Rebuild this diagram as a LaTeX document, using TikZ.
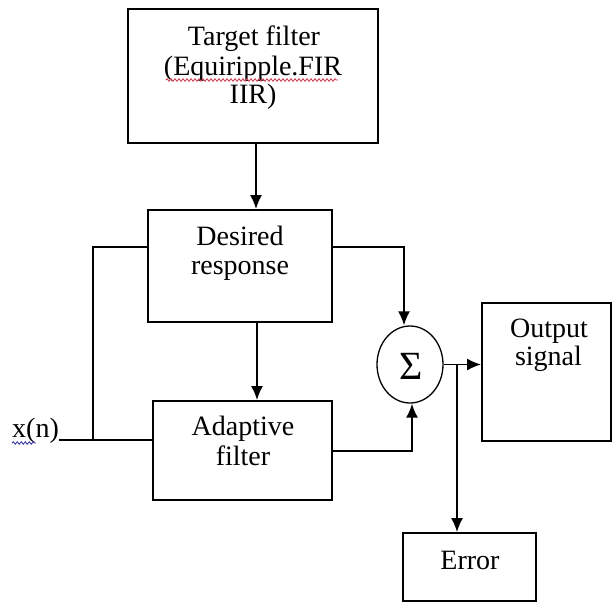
\documentclass[tikz,border=0pt]{standalone}
\usepackage{fontspec}
\setmainfont{Liberation Serif}
\usetikzlibrary{arrows.meta,shapes.geometric,decorations.pathmorphing}
\begin{document}
\begin{tikzpicture}[x=1pt,y=-1pt,
  box/.style={draw=black,line width=1.8pt,rectangle,inner sep=0pt},
  txt/.style={inner sep=0pt,anchor=base,font=\fontsize{28}{30}\selectfont},
  wire/.style={line width=1.8pt},
  arr/.style={line width=1.8pt,-{Latex[length=14pt,width=12pt]}},
  squig/.style={line width=0.9pt,decorate,decoration={snake,amplitude=1.2pt,segment length=4pt}}]
\useasboundingbox (0,0) rectangle (613,603);
\fill[white] (0,0) rectangle (613,603);
% boxes
\node[box,minimum width=250pt,minimum height=134pt] (target) at (253,76) {};
\node[box,minimum width=184pt,minimum height=112pt] (desired) at (240,266) {};
\node[box,minimum width=179pt,minimum height=99pt] (adaptive) at (242.5,450.5) {};
\node[draw=black,line width=1.3pt,ellipse,minimum width=66pt,minimum height=77pt,inner sep=0pt] (sigma) at (410,364.5) {};
\node[box,minimum width=129pt,minimum height=138pt] (output) at (546.5,372) {};
\node[box,minimum width=133pt,minimum height=68pt] (error) at (469.5,567) {};
% texts
\node[txt] (t1) at (254,45) {Target filter};
\node[txt] (t2) at (253,75) {(Equiripple.FIR};
\node[txt] (t3) at (253,103) {IIR)};
\node[txt] (d1) at (240,245) {Desired};
\node[txt] (d2) at (240,274) {response};
\node[txt] (a1) at (243,435) {Adaptive};
\node[txt] (a2) at (243,465) {filter};
\node[txt] (o1) at (549,337) {Output};
\node[txt] (o2) at (548.5,365) {signal};
\node[txt] (e1) at (470,569) {Error};
\node[inner sep=0pt,font=\fontsize{40}{40}\selectfont] (sg) at (411,366) {Σ};
\node[txt,anchor=base west] (xn) at (12,437) {x(n)};
% spell-check underlines
\draw[squig,color={rgb,255:red,205;green,70;blue,90}] (t2.base west) ++(2,5) -- ++(172,0);
\draw[squig,color={rgb,255:red,60;green,60;blue,170}] (xn.base west) ++(0,6) -- ++(24,0);
% connectors
\coordinate (j) at (93,440);
\coordinate (b) at (457,364.5);
\draw[arr] ([xshift=3pt]target.south) -- ([xshift=3pt]target.south |- desired.north);
\draw[arr] ([xshift=17pt]desired.south) -- ([xshift=17pt]desired.south |- adaptive.north);
\draw[wire] ([yshift=19pt]desired.west) -| (j) -- (j -| adaptive.west);
\draw[wire] (j) -- (j -| xn.east);
\draw[arr] ([yshift=19pt]desired.east) -| ([xshift=-6pt]sigma.north);
\draw[arr] ([yshift=-0.5pt]adaptive.east) -| ([xshift=2pt]sigma.south);
\draw[arr] (sigma.east) -- (sigma.east -| output.west);
\draw[arr] (b) -- (b |- error.north);
\end{tikzpicture}
\end{document}
